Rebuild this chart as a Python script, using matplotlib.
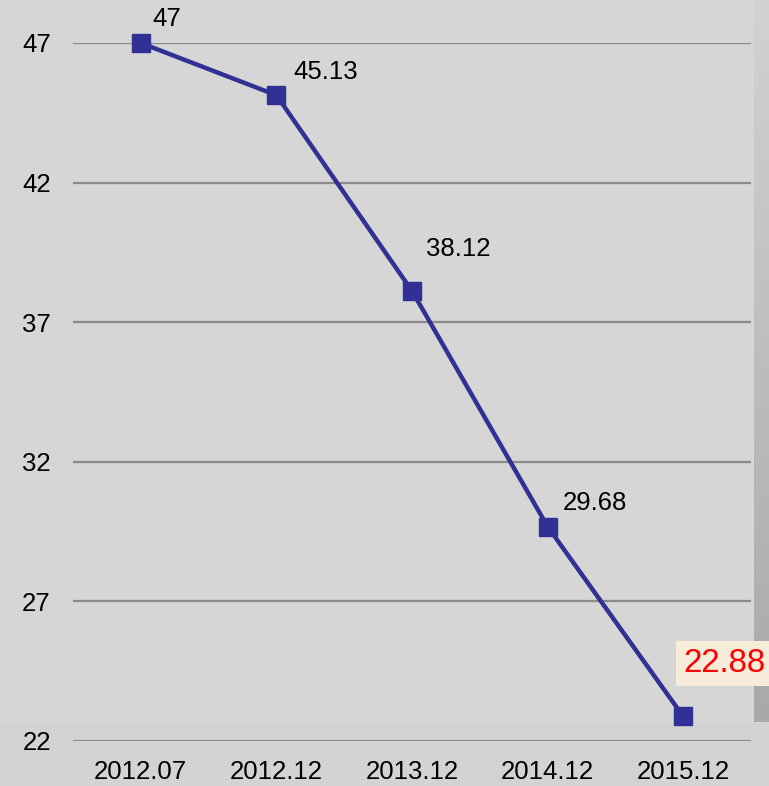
import matplotlib
matplotlib.use("Agg")
import matplotlib.pyplot as plt
import numpy as np
from matplotlib.colors import LinearSegmentedColormap

categories = ["2012.07", "2012.12", "2013.12", "2014.12", "2015.12"]
values = [47, 45.13, 38.12, 29.68, 22.88]
value_labels = ["47", "45.13", "38.12", "29.68", "22.88"]
yticks = [22, 27, 32, 37, 42, 47]

plt.rcParams['font.family'] = ['Liberation Sans', 'DejaVu Sans']

W, H = 769, 786
fig = plt.figure(figsize=(W / 100, H / 100), dpi=100, facecolor="#d6d6d6")

# bottom band
fig.patches.append(plt.Rectangle((0, 0), 1, 1 - 722 / H, transform=fig.transFigure,
                                 facecolor="#d3d3d3", edgecolor="none", zorder=-2))

# right darker strip (gradient)
strip = fig.add_axes([754 / W, 1 - 722 / H, 15 / W, 722 / H])
grad = np.linspace(0, 1, 256).reshape(-1, 1)
cm = LinearSegmentedColormap.from_list("g", ["#d2d2d2", "#a9a9a9"])
strip.imshow(grad, aspect="auto", cmap=cm, extent=[0, 1, 0, 1], origin="upper")
strip.axis("off")

ax = fig.add_axes([73 / W, 1 - 741 / H, (751 - 73) / W, (741 - 43) / H])
ax.set_facecolor("none")
x = np.arange(len(categories))
ax.set_xlim(-0.5, len(categories) - 0.5)
ax.set_ylim(22, 47)
ax.set_yticks(yticks)
ax.set_yticklabels([str(t) for t in yticks])
ax.set_xticks(x)
ax.set_xticklabels(categories)
for s in ax.spines.values():
    s.set_visible(False)
ax.tick_params(axis="both", length=0, labelsize=18.5, colors="black")
ax.tick_params(axis="y", pad=16)
ax.tick_params(axis="x", pad=14)
ax.grid(axis="y", color="#8a8a8a", linewidth=1.6)
ax.set_axisbelow(True)

ax.plot(x, values, color="#303095", linewidth=3.2, marker="s", markersize=12.5,
        clip_on=False, zorder=3)

offsets = [(8, 17), (12, 17), (10, 30), (11, 17)]
for i in range(4):
    ax.annotate(value_labels[i], (x[i], values[i]), xytext=offsets[i],
                textcoords="offset points", fontsize=18.5, ha="left", va="center",
                color="black")

ax.annotate(value_labels[4], (x[4], values[4]), xytext=(0, 38),
            textcoords="offset points", fontsize=23.8, ha="left", va="center",
            color="#ff0000",
            bbox=dict(boxstyle="square,pad=0.22", facecolor="#f7ebd9", edgecolor="none"))

fig.savefig("out.png", dpi=100, facecolor=fig.get_facecolor())
